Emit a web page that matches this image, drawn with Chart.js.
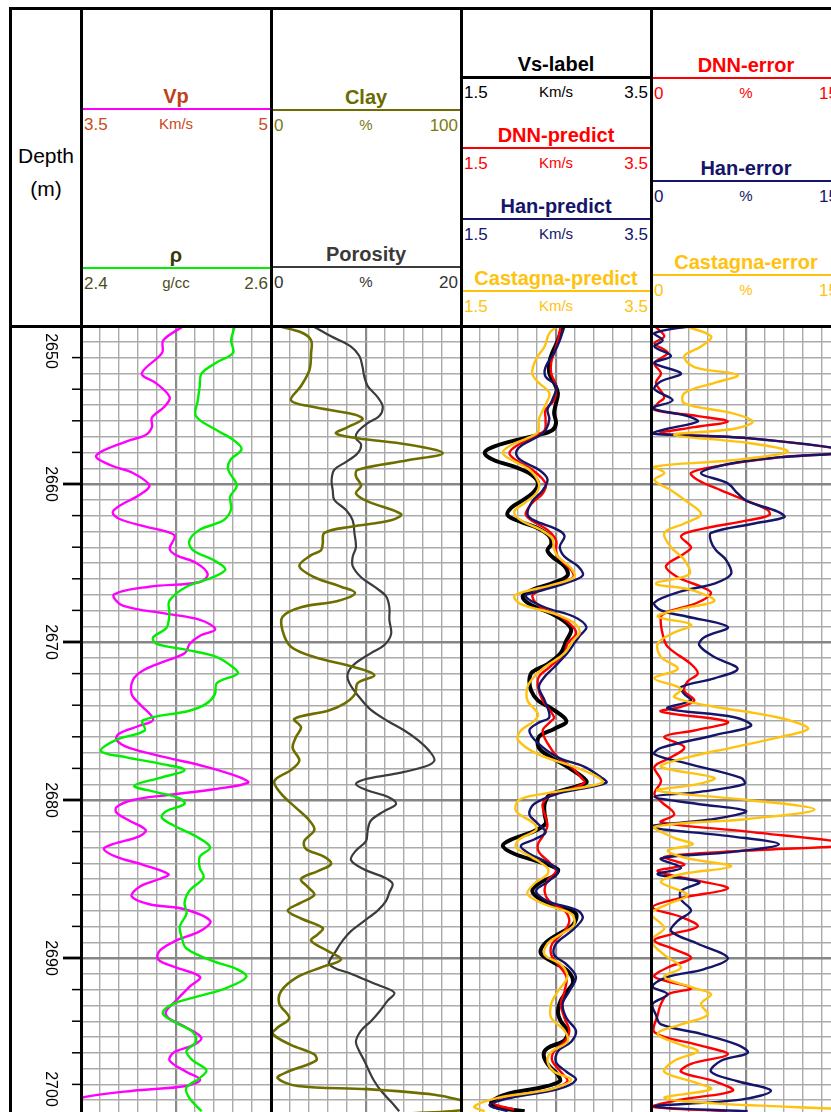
<!DOCTYPE html>
<html><head><meta charset="utf-8">
<script src="https://cdn.jsdelivr.net/npm/chart.js@4.4.1/dist/chart.umd.min.js"></script>
<style>
html,body{margin:0;padding:0;background:#fff;width:831px;height:1112px;overflow:hidden;}
#root{position:relative;width:831px;height:1112px;overflow:hidden;font-family:"Liberation Sans",Arial,sans-serif;background:#fff;}
.t{position:absolute;white-space:nowrap;line-height:1;}
.c{transform:translate(-50%,-50%);}
.l{transform:translate(0,-50%);}
.r{transform:translate(-100%,-50%);}
.ln{position:absolute;z-index:5;}
canvas{position:absolute;}
</style></head><body><div id="root"></div>
<script>
// ---------- DATA (depth in m, value in track units) ----------
const depthMin = 2650, depthMax = 2700;
const depthLabels = [2650, 2660, 2670, 2680, 2690, 2700];

const vp = [[2650.0,4.31],[2650.9,4.15],[2651.7,4.14],[2653.0,3.98],[2653.6,4.09],[2654.5,4.20],[2655.1,4.16],[2655.8,4.06],[2656.4,4.06],[2656.9,4.01],[2657.3,3.86],[2658.2,3.62],[2658.8,3.73],[2659.3,3.91],[2660.1,4.04],[2660.7,3.96],[2661.4,3.80],[2661.8,3.75],[2662.2,3.80],[2662.7,4.01],[2663.0,4.17],[2663.3,4.24],[2664.1,4.20],[2664.5,4.25],[2665.0,4.41],[2665.7,4.50],[2666.2,4.44],[2666.5,4.04],[2667.0,3.76],[2667.7,3.83],[2668.2,4.17],[2668.6,4.44],[2669.2,4.56],[2669.6,4.44],[2670.1,4.36],[2670.7,4.32],[2671.2,4.17],[2671.8,3.99],[2672.4,3.91],[2673.3,3.90],[2673.9,3.96],[2674.9,4.07],[2675.3,3.96],[2675.8,3.80],[2676.2,3.78],[2676.7,3.88],[2677.3,4.17],[2677.9,4.49],[2678.55,4.75],[2678.9,4.82],[2679.3,4.57],[2679.7,4.17],[2680.0,3.91],[2680.45,3.78],[2680.8,3.78],[2681.3,3.88],[2681.9,4.01],[2682.3,3.96],[2682.8,3.75],[2683.1,3.68],[2683.6,3.78],[2684.1,3.99],[2684.7,4.19],[2685.0,4.12],[2685.5,3.96],[2686.1,3.90],[2686.6,4.04],[2686.9,4.31],[2687.65,4.52],[2688.3,4.44],[2688.9,4.25],[2689.55,4.12],[2690.1,4.11],[2690.6,4.25],[2691.2,4.44],[2691.8,4.36],[2692.7,4.25],[2693.4,4.17],[2693.8,4.19],[2694.4,4.33],[2695.05,4.45],[2695.5,4.39],[2696.0,4.23],[2696.5,4.20],[2697.2,4.33],[2697.7,4.44],[2698.1,4.33],[2698.4,3.91],[2698.85,3.50],[2699.4,3.30]];

const rho = [[2650.0,2.562],[2650.9,2.558],[2651.7,2.560],[2652.3,2.543],[2653.0,2.527],[2653.8,2.525],[2654.7,2.523],[2655.7,2.521],[2656.6,2.543],[2657.2,2.560],[2657.8,2.569],[2658.5,2.557],[2659.1,2.555],[2660.1,2.564],[2660.8,2.557],[2661.6,2.558],[2662.3,2.550],[2662.9,2.525],[2663.6,2.514],[2664.2,2.518],[2664.8,2.539],[2665.4,2.552],[2665.9,2.539],[2666.5,2.511],[2667.4,2.493],[2668.2,2.493],[2669.1,2.490],[2669.7,2.476],[2670.1,2.479],[2670.5,2.511],[2670.95,2.543],[2671.6,2.560],[2672.0,2.565],[2672.6,2.543],[2673.3,2.541],[2673.9,2.532],[2674.35,2.514],[2674.96,2.465],[2675.6,2.467],[2676.2,2.437],[2676.9,2.421],[2677.3,2.448],[2677.7,2.483],[2678.1,2.509],[2678.6,2.483],[2679.1,2.456],[2679.5,2.479],[2679.9,2.504],[2680.25,2.509],[2680.7,2.490],[2681.1,2.485],[2681.6,2.497],[2682.3,2.521],[2683.0,2.536],[2683.6,2.525],[2684.3,2.525],[2684.9,2.529],[2685.75,2.514],[2686.5,2.509],[2687.2,2.511],[2688.0,2.504],[2688.7,2.506],[2689.4,2.511],[2690.2,2.539],[2690.7,2.564],[2691.2,2.574],[2691.9,2.553],[2692.4,2.525],[2692.9,2.497],[2693.5,2.486],[2694.1,2.500],[2694.7,2.518],[2695.3,2.521],[2695.9,2.511],[2696.5,2.518],[2697.1,2.532],[2697.6,2.525],[2698.2,2.511],[2698.85,2.514],[2699.7,2.527]];

const clay = [[2650.0,3.5],[2650.4,15.8],[2650.9,21.1],[2651.7,21.1],[2652.8,20.2],[2653.8,15.8],[2654.7,10.5],[2655.1,21.1],[2655.6,43.9],[2655.9,48.2],[2656.4,40.4],[2656.8,34.2],[2657.1,45.6],[2657.5,71.9],[2658.05,90.4],[2658.5,71.9],[2659.1,45.6],[2659.5,44.7],[2660.1,47.4],[2660.6,44.7],[2661.1,50.9],[2661.9,68.4],[2662.3,63.2],[2662.7,42.1],[2663.1,28.1],[2663.8,27.2],[2664.2,26.3],[2664.5,21.1],[2665.2,14.9],[2665.9,22.8],[2666.5,36.8],[2666.9,44.2],[2667.4,35.1],[2667.8,15.8],[2668.4,6.1],[2669.3,6.1],[2670.3,10.5],[2670.95,22.8],[2671.6,43.9],[2672.1,54.4],[2672.6,45.6],[2673.3,44.2],[2673.9,38.6],[2674.35,30.0],[2674.86,12.3],[2675.4,15.8],[2676.0,13.2],[2676.7,11.4],[2677.5,14.9],[2678.1,10.5],[2678.8,1.8],[2679.6,5.3],[2680.5,13.2],[2681.3,20.2],[2681.9,22.8],[2682.6,17.5],[2683.1,18.4],[2683.6,28.1],[2684.06,31.6],[2684.5,24.6],[2685.0,15.8],[2685.5,19.3],[2686.0,22.8],[2686.5,15.8],[2687.0,8.8],[2687.5,15.8],[2688.1,27.2],[2688.5,24.6],[2688.9,21.1],[2689.55,29.8],[2690.1,36.8],[2690.6,26.3],[2691.2,14.0],[2692.1,5.3],[2692.9,4.4],[2693.8,9.6],[2694.4,3.5],[2694.8,0.9],[2695.5,10.5],[2696.1,22.8],[2696.5,23.7],[2697.2,8.8],[2697.6,3.5],[2698.1,14.0],[2698.3,50.9],[2698.65,86.0],[2699.0,100.0],[2699.35,110.0],[2699.7,95.0],[2699.9,50.0]];

const porosity = [[2650.0,4.38],[2650.65,6.32],[2651.3,8.42],[2651.9,9.30],[2652.6,9.64],[2653.2,9.82],[2653.8,10.18],[2654.5,11.22],[2655.1,11.76],[2655.7,11.40],[2656.15,10.18],[2656.7,9.12],[2657.1,8.94],[2657.5,9.48],[2658.05,9.12],[2658.6,7.90],[2659.1,6.66],[2659.75,6.38],[2660.4,6.50],[2661.0,6.66],[2661.65,7.90],[2662.3,8.60],[2663.1,8.78],[2664.0,8.94],[2664.6,8.60],[2665.2,8.60],[2665.9,9.48],[2666.5,10.88],[2667.1,12.10],[2667.8,12.46],[2668.6,12.46],[2669.5,12.64],[2670.2,11.92],[2670.7,10.52],[2671.4,8.78],[2672.0,8.08],[2672.6,8.24],[2673.5,9.30],[2674.3,10.52],[2675.0,12.28],[2675.6,14.04],[2676.2,15.44],[2676.9,16.66],[2677.5,17.20],[2677.9,16.14],[2678.35,12.98],[2678.7,9.82],[2679.0,8.94],[2679.4,10.18],[2679.8,12.28],[2680.25,13.16],[2680.7,11.92],[2681.3,10.52],[2681.9,10.18],[2682.6,10.00],[2683.2,8.94],[2683.8,8.42],[2684.4,9.82],[2684.9,11.92],[2685.3,12.80],[2685.85,12.46],[2686.4,12.10],[2687.0,11.22],[2687.65,9.82],[2688.3,8.42],[2688.9,7.54],[2689.55,6.84],[2690.4,6.14],[2691.0,8.42],[2691.7,11.22],[2692.2,12.98],[2692.7,12.28],[2693.4,11.40],[2694.0,10.52],[2694.6,9.48],[2695.3,8.94],[2695.9,9.30],[2696.5,9.82],[2697.2,10.36],[2697.8,10.88],[2698.4,11.58],[2699.1,12.64],[2699.7,13.50]];

const vsLabel = [[2650.0,2.57],[2650.9,2.52],[2651.7,2.46],[2652.3,2.43],[2653.0,2.43],[2653.6,2.48],[2654.25,2.52],[2654.9,2.50],[2655.5,2.48],[2656.15,2.50],[2656.6,2.46],[2656.9,2.31],[2657.3,2.03],[2657.7,1.82],[2658.05,1.75],[2658.5,1.85],[2658.9,2.06],[2659.4,2.24],[2659.96,2.31],[2660.6,2.25],[2661.1,2.13],[2661.5,2.03],[2661.97,1.99],[2662.4,2.13],[2662.8,2.31],[2663.3,2.43],[2663.8,2.45],[2664.2,2.41],[2664.6,2.46],[2665.2,2.59],[2665.8,2.62],[2666.3,2.45],[2666.7,2.25],[2667.1,2.15],[2667.6,2.22],[2668.2,2.45],[2668.8,2.61],[2669.26,2.66],[2669.9,2.61],[2670.7,2.55],[2671.4,2.41],[2671.9,2.25],[2672.4,2.22],[2673.1,2.24],[2673.7,2.31],[2674.2,2.45],[2675.0,2.61],[2675.5,2.48],[2676.0,2.32],[2676.7,2.32],[2677.3,2.45],[2677.9,2.62],[2678.55,2.78],[2678.9,2.82],[2679.3,2.62],[2679.7,2.43],[2680.25,2.38],[2680.9,2.38],[2681.5,2.39],[2682.05,2.24],[2682.5,2.03],[2682.9,1.94],[2683.4,2.06],[2683.95,2.34],[2684.4,2.52],[2684.8,2.48],[2685.2,2.34],[2685.75,2.25],[2686.3,2.34],[2686.8,2.55],[2687.2,2.71],[2687.9,2.68],[2688.5,2.52],[2689.1,2.38],[2689.7,2.34],[2690.2,2.45],[2690.8,2.62],[2691.5,2.68],[2692.1,2.62],[2692.7,2.55],[2693.4,2.52],[2694.0,2.55],[2694.6,2.62],[2695.2,2.59],[2695.7,2.41],[2696.1,2.37],[2696.7,2.41],[2697.4,2.52],[2697.8,2.54],[2698.2,2.34],[2698.6,1.99],[2699.1,1.82],[2699.4,1.85],[2699.7,2.17]];

const dnnPredict = [[2650.0,2.55],[2650.9,2.52],[2651.7,2.48],[2652.3,2.45],[2653.0,2.45],[2653.8,2.50],[2654.7,2.48],[2655.3,2.39],[2655.9,2.39],[2656.6,2.38],[2657.0,2.27],[2657.6,2.08],[2658.05,2.01],[2658.5,2.08],[2659.1,2.25],[2659.96,2.39],[2660.6,2.36],[2661.2,2.25],[2661.9,2.18],[2662.3,2.24],[2662.9,2.41],[2663.55,2.50],[2664.2,2.50],[2664.6,2.52],[2665.45,2.66],[2665.9,2.68],[2666.3,2.52],[2666.8,2.31],[2667.1,2.25],[2667.8,2.34],[2668.4,2.55],[2669.05,2.68],[2669.5,2.71],[2670.1,2.62],[2670.7,2.59],[2671.6,2.43],[2672.2,2.32],[2672.85,2.31],[2673.7,2.36],[2674.76,2.48],[2675.0,2.45],[2675.6,2.36],[2676.4,2.41],[2677.3,2.52],[2677.9,2.66],[2678.55,2.76],[2678.9,2.80],[2679.3,2.66],[2679.7,2.45],[2680.25,2.36],[2680.9,2.38],[2681.6,2.41],[2682.3,2.36],[2682.8,2.31],[2683.3,2.32],[2683.95,2.43],[2684.5,2.50],[2685.1,2.41],[2685.75,2.38],[2686.4,2.43],[2687.0,2.59],[2687.65,2.64],[2688.3,2.59],[2689.1,2.46],[2689.8,2.45],[2690.4,2.52],[2691.2,2.61],[2692.1,2.59],[2692.9,2.55],[2693.8,2.59],[2694.6,2.64],[2695.3,2.59],[2695.9,2.48],[2696.5,2.46],[2697.2,2.55],[2697.8,2.62],[2698.3,2.45],[2698.75,2.06],[2699.2,1.85],[2699.6,2.06]];

const hanPredict = [[2650.0,2.59],[2650.9,2.54],[2651.7,2.48],[2652.6,2.39],[2653.2,2.39],[2653.8,2.50],[2654.7,2.46],[2655.3,2.41],[2655.9,2.43],[2656.6,2.39],[2657.0,2.31],[2657.6,2.13],[2658.05,2.08],[2658.5,2.13],[2659.1,2.32],[2659.7,2.41],[2660.4,2.36],[2661.1,2.25],[2661.9,2.20],[2662.3,2.27],[2662.9,2.52],[2663.3,2.59],[2663.97,2.54],[2664.6,2.59],[2665.2,2.73],[2665.8,2.78],[2666.3,2.59],[2666.8,2.31],[2667.1,2.18],[2667.8,2.38],[2668.4,2.69],[2669.05,2.82],[2669.6,2.75],[2670.1,2.69],[2670.7,2.62],[2671.6,2.48],[2672.2,2.38],[2672.85,2.32],[2673.7,2.38],[2674.76,2.43],[2675.1,2.32],[2675.6,2.22],[2676.4,2.31],[2677.3,2.52],[2677.9,2.80],[2678.55,2.97],[2678.9,3.03],[2679.3,2.76],[2679.6,2.52],[2680.25,2.27],[2680.9,2.22],[2681.5,2.31],[2682.05,2.39],[2682.5,2.27],[2682.9,2.13],[2683.4,2.22],[2683.95,2.41],[2684.5,2.52],[2685.1,2.43],[2685.75,2.29],[2686.4,2.41],[2687.0,2.73],[2687.5,2.78],[2688.3,2.66],[2689.1,2.50],[2689.8,2.48],[2690.4,2.61],[2691.2,2.71],[2692.1,2.64],[2692.9,2.57],[2693.8,2.61],[2694.6,2.71],[2695.3,2.66],[2695.9,2.52],[2696.6,2.50],[2697.2,2.61],[2697.7,2.71],[2698.3,2.52],[2698.85,2.03],[2699.3,1.80],[2699.7,1.99]];

const castagnaPredict = [[2650.0,2.52],[2650.45,2.43],[2651.3,2.38],[2652.1,2.29],[2653.0,2.25],[2653.6,2.32],[2654.25,2.43],[2655.1,2.38],[2655.9,2.32],[2656.7,2.31],[2657.1,2.20],[2657.6,2.01],[2658.05,1.94],[2658.5,2.04],[2659.1,2.22],[2659.96,2.32],[2660.6,2.29],[2661.2,2.17],[2661.75,2.06],[2662.3,2.13],[2662.9,2.34],[2663.45,2.46],[2664.1,2.48],[2664.6,2.52],[2665.35,2.66],[2665.9,2.69],[2666.4,2.45],[2666.8,2.18],[2667.1,2.06],[2667.6,2.13],[2668.2,2.48],[2668.8,2.69],[2669.4,2.75],[2669.9,2.68],[2670.7,2.59],[2671.6,2.38],[2672.2,2.27],[2672.85,2.20],[2673.7,2.20],[2674.55,2.31],[2675.0,2.27],[2675.6,2.13],[2676.2,2.10],[2677.1,2.31],[2677.9,2.69],[2678.55,2.94],[2678.9,2.99],[2679.3,2.69],[2679.6,2.38],[2680.0,2.11],[2680.7,2.08],[2681.5,2.27],[2681.9,2.29],[2682.5,2.11],[2683.0,2.08],[2683.6,2.24],[2684.3,2.41],[2684.7,2.41],[2685.3,2.27],[2685.95,2.20],[2686.6,2.38],[2687.2,2.66],[2687.9,2.69],[2688.5,2.55],[2689.1,2.41],[2689.8,2.38],[2690.4,2.55],[2691.2,2.62],[2692.1,2.52],[2692.9,2.45],[2693.8,2.45],[2694.6,2.59],[2695.3,2.62],[2695.9,2.46],[2696.5,2.41],[2697.2,2.48],[2697.7,2.66],[2698.3,2.45],[2698.85,1.89],[2699.4,1.64],[2699.7,1.75]];

const dnnError = [[2650.0,0.27],[2650.65,1.05],[2651.1,0.27],[2651.7,1.32],[2652.35,0.27],[2653.0,0.79],[2653.6,0.39],[2654.5,1.05],[2654.9,0.53],[2655.3,0.27],[2655.7,3.69],[2656.05,6.06],[2656.4,3.42],[2656.8,0.79],[2657.1,7.63],[2657.95,15.6],[2658.3,10.26],[2658.9,5.0],[2659.3,3.16],[2659.75,3.69],[2660.4,5.53],[2661.0,7.37],[2661.65,9.21],[2661.97,9.34],[2662.3,7.63],[2662.9,3.69],[2663.3,2.37],[2664.0,3.16],[2664.4,2.63],[2665.2,1.18],[2665.9,2.11],[2666.5,3.95],[2666.9,4.74],[2667.5,3.69],[2668.1,1.32],[2668.4,0.79],[2669.5,0.92],[2670.3,1.32],[2671.4,3.16],[2672.0,3.69],[2672.5,2.89],[2673.1,2.63],[2673.7,3.42],[2674.1,2.37],[2674.4,0.79],[2675.05,6.06],[2675.6,3.42],[2676.0,1.05],[2676.65,2.63],[2677.3,1.58],[2677.9,0.27],[2678.8,0.79],[2679.6,0.27],[2680.1,0.79],[2680.9,1.84],[2681.4,0.79],[2682.0,7.63],[2682.8,15.5],[2683.2,7.63],[2683.6,1.05],[2684.1,2.63],[2684.5,0.53],[2685.1,3.69],[2685.6,6.06],[2686.2,2.37],[2686.8,0.13],[2687.4,2.37],[2688.0,3.69],[2688.5,1.58],[2688.9,0.27],[2689.45,1.84],[2690.0,3.16],[2690.6,1.32],[2691.2,0.27],[2691.9,3.16],[2692.3,1.32],[2692.9,0.79],[2693.6,0.53],[2694.7,0.27],[2695.5,3.69],[2696.1,6.06],[2696.7,3.16],[2697.2,2.37],[2697.8,5.0],[2698.4,6.45],[2698.96,2.37],[2699.4,0.0],[2699.7,6.0]];

const hanError = [[2650.0,3.16],[2650.45,0.27],[2650.9,0.92],[2651.3,0.27],[2651.9,1.58],[2652.35,0.27],[2653.0,2.37],[2653.5,0.79],[2654.0,0.27],[2654.7,1.71],[2655.2,0.13],[2655.7,2.89],[2656.05,3.69],[2656.5,1.32],[2656.8,0.0],[2657.1,7.63],[2657.95,15.6],[2658.3,10.26],[2658.7,6.32],[2659.3,3.95],[2659.96,6.06],[2660.6,6.84],[2661.1,7.63],[2661.75,10.0],[2662.1,10.53],[2662.5,8.16],[2663.1,4.74],[2663.65,4.74],[2664.2,5.13],[2664.8,5.92],[2665.7,6.32],[2666.3,5.0],[2666.8,2.37],[2667.5,0.27],[2668.0,0.79],[2668.4,2.89],[2669.05,6.06],[2669.7,4.21],[2670.2,3.81],[2670.95,5.0],[2671.7,6.84],[2672.3,5.0],[2672.85,2.37],[2673.3,2.63],[2673.7,3.16],[2674.2,1.32],[2674.76,6.58],[2675.3,7.89],[2675.9,5.0],[2676.7,0.79],[2677.1,0.27],[2677.7,2.89],[2678.6,7.11],[2679.0,7.37],[2679.5,3.69],[2679.8,0.27],[2680.25,3.69],[2680.7,7.5],[2681.2,5.0],[2681.7,0.0],[2682.3,6.32],[2682.8,10.1],[2683.3,6.32],[2683.7,0.79],[2684.3,2.37],[2684.7,0.53],[2685.2,3.81],[2685.75,2.37],[2686.3,2.37],[2687.0,3.16],[2687.65,2.11],[2688.3,1.58],[2689.1,3.69],[2690.0,6.06],[2690.7,4.21],[2691.2,1.32],[2691.8,0.13],[2692.3,1.32],[2692.9,0.13],[2693.6,0.39],[2694.2,0.79],[2694.8,3.95],[2695.5,6.84],[2696.0,7.63],[2696.5,5.53],[2697.2,4.74],[2697.8,6.84],[2698.4,9.47],[2698.96,7.11],[2699.4,0.27],[2699.7,7.63]];

const castagnaError = [[2650.0,2.63],[2650.65,4.74],[2651.3,3.95],[2651.9,2.63],[2652.6,3.42],[2653.1,6.84],[2653.6,5.0],[2654.25,2.63],[2654.9,2.63],[2655.5,6.32],[2656.05,8.03],[2656.5,6.58],[2656.9,1.84],[2657.4,7.63],[2657.95,10.79],[2658.5,6.32],[2658.9,0.27],[2659.3,1.05],[2659.75,0.27],[2660.4,1.58],[2661.0,2.63],[2661.9,3.95],[2662.5,2.63],[2663.1,1.05],[2664.0,1.58],[2664.8,2.63],[2665.7,3.03],[2666.3,0.39],[2666.7,3.16],[2667.4,5.0],[2667.9,2.37],[2668.4,0.53],[2668.9,3.16],[2669.5,1.58],[2670.1,0.53],[2670.95,0.79],[2671.7,2.11],[2672.3,0.27],[2672.96,2.37],[2673.5,1.84],[2674.1,5.0],[2674.5,8.2],[2674.97,11.0],[2675.5,12.4],[2676.0,10.26],[2676.7,6.32],[2677.3,2.89],[2677.9,0.79],[2678.6,5.0],[2679.0,3.69],[2679.4,0.53],[2680.0,7.63],[2680.6,12.9],[2681.2,7.63],[2681.7,0.27],[2682.4,1.84],[2682.8,3.29],[2683.2,1.32],[2683.7,2.89],[2684.2,6.32],[2684.7,2.37],[2685.2,0.79],[2686.0,2.89],[2686.6,1.32],[2687.2,0.0],[2688.1,1.05],[2688.9,0.0],[2689.8,1.05],[2690.6,2.37],[2691.2,1.05],[2691.9,3.42],[2692.3,4.74],[2692.9,3.95],[2693.6,4.47],[2694.2,2.37],[2694.8,0.53],[2695.5,2.37],[2695.9,3.69],[2696.5,1.84],[2697.2,1.05],[2697.8,3.16],[2698.3,4.74],[2698.85,1.05],[2699.2,5.0],[2699.55,15.0]];

// ---------- LAYOUT ----------
const root = document.getElementById('root');
const TOP = 326, PXM = 15.8, H = Math.round((depthMax - depthMin) * PXM);
const FONT = '"Liberation Sans", Arial, sans-serif';
const tracks = [{x0:81, x1:271}, {x0:271, x1:461}, {x0:461, x1:651}, {x0:651, x1:841}];

function txt(s, x, y, cls, size, color, bold) {
  const d = document.createElement('div');
  d.className = 't ' + cls;
  d.textContent = s;
  d.style.left = x + 'px'; d.style.top = y + 'px';
  d.style.fontSize = size + 'px'; d.style.color = color;
  if (bold) d.style.fontWeight = 'bold';
  root.appendChild(d);
}
function rect(x, y, w, h, color) {
  const d = document.createElement('div');
  d.className = 'ln';
  d.style.left = x + 'px'; d.style.top = y + 'px';
  d.style.width = w + 'px'; d.style.height = h + 'px';
  d.style.background = color;
  root.appendChild(d);
}
function header(ti, title, lineY, lineColor, titleColor, valColor, lo, unit, hi, lw) {
  const t = tracks[ti], cx = (t.x0 + t.x1) / 2;
  txt(title, cx, lineY - 13.5, 'c', 20, titleColor, true);
  rect(t.x0 + 1, lineY - lw / 2, t.x1 - t.x0 - 2, lw, lineColor);
  txt(lo, t.x0 + 3, lineY + 15, 'l', 17, valColor, false);
  txt(unit, cx, lineY + 14, 'c', 15, valColor, false);
  txt(hi, t.x1 - 3, lineY + 15, 'r', 17, valColor, false);
}

const C = {vp:'#ff00ff', rho:'#00ee00', clay:'#6e6e00', por:'#3c3c3c', vs:'#000000', dnn:'#ff0000', han:'#15156a', cas:'#ffc20e'};

// header text
txt('Depth', 46, 155, 'c', 21, '#000', false);
txt('(m)', 46, 188, 'c', 21, '#000', false);
header(0, 'Vp', 109, C.vp, '#bc4318', '#c94a20', '3.5', 'Km/s', '5', 2.5);
header(0, 'ρ', 268, C.rho, '#3a3a0c', '#4c4c1c', '2.4', 'g/cc', '2.6', 2.5);
header(1, 'Clay', 110, C.clay, '#6b6b00', '#7a7a12', '0', '%', '100', 2.5);
header(1, 'Porosity', 267, C.por, '#3a3a3a', '#333333', '0', '%', '20', 2);
header(2, 'Vs-label', 77, '#000', '#000', '#000', '1.5', 'Km/s', '3.5', 3);
header(2, 'DNN-predict', 148, C.dnn, C.dnn, C.dnn, '1.5', 'Km/s', '3.5', 2.5);
header(2, 'Han-predict', 219, C.han, C.han, C.han, '1.5', 'Km/s', '3.5', 2.5);
header(2, 'Castagna-predict', 291, C.cas, C.cas, C.cas, '1.5', 'Km/s', '3.5', 2.5);
header(3, 'DNN-error', 78, C.dnn, C.dnn, C.dnn, '0', '%', '15', 2.5);
header(3, 'Han-error', 181, C.han, C.han, C.han, '0', '%', '15', 2.5);
header(3, 'Castagna-error', 275, C.cas, C.cas, C.cas, '0', '%', '15', 2.5);

// frame lines
rect(9, 7, 840, 3, '#000');
rect(9, 325, 840, 3, '#000');
[9, 80, 270, 460, 649.5].forEach(x => rect(x, 7, 3, 1200, '#000'));

// ---------- CHARTS ----------
function makeCanvas(left, width) {
  const c = document.createElement('canvas');
  c.width = width; c.height = H;
  c.style.left = left + 'px'; c.style.top = TOP + 'px';
  c.style.width = width + 'px'; c.style.height = H + 'px';
  root.appendChild(c);
  return c;
}
const gridScales = {
  x: {type:'linear', min:0, max:10,
      ticks:{display:false, stepSize:1},
      grid:{drawTicks:false, color:c => c.tick && c.tick.value === 5 ? '#8a8a8a' : '#ababab',
            lineWidth:c => c.tick && c.tick.value === 5 ? 2.2 : 1.4},
      border:{display:false}},
  y: {type:'linear', reverse:true, min:depthMin, max:depthMax,
      ticks:{display:false, stepSize:1},
      grid:{drawTicks:false, color:c => c.tick && c.tick.value % 10 === 0 ? '#868686' : '#ababab',
            lineWidth:c => c.tick && c.tick.value % 10 === 0 ? 2.6 : 1.4},
      border:{display:false}}
};
function ds(label, arr, axis, color, width) {
  return {label, data: arr.map(p => ({x:p[1], y:p[0]})), xAxisID: axis, yAxisID: 'y',
          showLine:true, borderColor:color, borderWidth:width, pointRadius:0, pointHoverRadius:0,
          tension:0.35, fill:false};
}
function track(ti, scales, datasets) {
  const t = tracks[ti];
  const cv = makeCanvas(t.x0, t.x1 - t.x0);
  const sc = Object.assign({}, gridScales);
  Object.keys(scales).forEach(k => {
    sc[k] = {type:'linear', axis:'x', min:scales[k][0], max:scales[k][1], display:false};
  });
  new Chart(cv, {
    type:'scatter',
    data:{datasets},
    options:{responsive:false, maintainAspectRatio:false, animation:false, events:[],
             devicePixelRatio:1, layout:{padding:0},
             plugins:{legend:{display:false}, tooltip:{enabled:false}},
             scales:sc}
  });
}

track(0, {xVp:[3.5,5], xRho:[2.4,2.6]}, [
  ds('ρ', rho, 'xRho', C.rho, 2.4),
  ds('Vp', vp, 'xVp', C.vp, 2.4)
]);
track(1, {xClay:[0,100], xPor:[0,20]}, [
  ds('Clay', clay, 'xClay', C.clay, 2.6),
  ds('Porosity', porosity, 'xPor', C.por, 2.2)
]);
track(2, {xVs:[1.5,3.5]}, [
  ds('Castagna-predict', castagnaPredict, 'xVs', C.cas, 2.4),
  ds('Han-predict', hanPredict, 'xVs', C.han, 2.4),
  ds('DNN-predict', dnnPredict, 'xVs', C.dnn, 2.4),
  ds('Vs-label', vsLabel, 'xVs', C.vs, 4)
]);
track(3, {xErr:[0,15]}, [
  ds('Castagna-error', castagnaError, 'xErr', C.cas, 2.4),
  ds('Han-error', hanError, 'xErr', C.han, 2.4),
  ds('DNN-error', dnnError, 'xErr', C.dnn, 2.4)
]);

// depth track
const depthPlugin = {
  id:'depthTicks',
  afterDraw(chart) {
    const ctx = chart.ctx, ys = chart.scales.y, w = chart.width;
    const visible = 1112 - TOP;
    ctx.save();
    ctx.strokeStyle = '#000';
    for (let d = depthMin + 2; d < depthMax; d += 2) {
      const major = d % 10 === 0;
      const y = ys.getPixelForValue(d);
      ctx.lineWidth = major ? 2.8 : 1.5;
      ctx.beginPath(); ctx.moveTo(w - (major ? 18 : 9), y); ctx.lineTo(w, y); ctx.stroke();
    }
    ctx.fillStyle = '#000';
    ctx.font = '16px ' + FONT;
    ctx.textAlign = 'center'; ctx.textBaseline = 'middle';
    depthLabels.forEach(d => {
      let y = ys.getPixelForValue(d);
      y = Math.max(25, Math.min(visible - 23, y));
      ctx.save(); ctx.translate(39, y); ctx.rotate(Math.PI / 2);
      ctx.fillText(String(d), 0, 0);
      ctx.restore();
    });
    ctx.restore();
  }
};
const dcv = makeCanvas(11, 70);
new Chart(dcv, {
  type:'scatter',
  data:{datasets:[]},
  options:{responsive:false, maintainAspectRatio:false, animation:false, events:[], devicePixelRatio:1,
           layout:{padding:0}, plugins:{legend:{display:false}, tooltip:{enabled:false}},
           scales:{x:{type:'linear', min:0, max:1, display:false},
                   y:{type:'linear', reverse:true, min:depthMin, max:depthMax, display:false}}},
  plugins:[depthPlugin]
});
</script>
</body></html>
